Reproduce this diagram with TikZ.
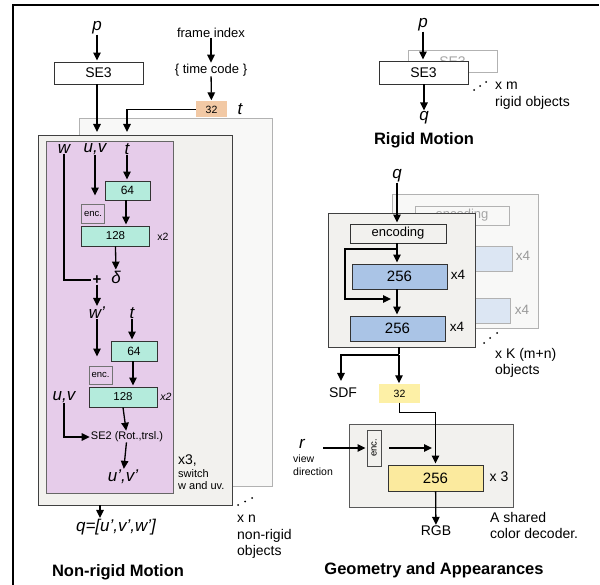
\documentclass[tikz,border=0pt]{standalone}
\usepackage{fontspec}
\setmainfont{Liberation Sans}
\usetikzlibrary{positioning,arrows.meta}

\definecolor{lila}{HTML}{E6CCEA}
\definecolor{mint}{HTML}{B4EBDC}
\definecolor{peach}{HTML}{F2C9A5}
\definecolor{panel}{HTML}{F2F1EE}
\definecolor{ghost}{HTML}{F8F8F7}
\definecolor{steel}{HTML}{AAC4E6}
\definecolor{pale}{HTML}{DCE6F3}
\definecolor{lemon}{HTML}{FDF0A6}
\definecolor{butter}{HTML}{FBEA9E}

\begin{document}
\begin{tikzpicture}[x=1pt,y=-1pt,>={Triangle[length=8pt,width=7.5pt]},shorten >=1pt,
  arr/.style={->,line width=1.3pt},
  wire/.style={line width=1.3pt},
  main/.style={draw=black!80,line width=0.9pt,inner sep=0pt,font=\fontsize{14}{16}\selectfont},
  layer/.style={draw=black!75,line width=0.9pt,fill=panel,inner sep=0pt},
  shade/.style={draw=black!30,line width=0.9pt,fill=ghost,inner sep=0pt},
  var/.style={font=\fontsize{17}{19}\selectfont\itshape,inner sep=0pt},
  lbl/.style={font=\fontsize{14}{16.5}\selectfont,align=left,inner sep=0pt},
  small/.style={font=\fontsize{10.5}{12.5}\selectfont,inner sep=0pt},
  title/.style={font=\fontsize{16.5}{19}\selectfont\bfseries,inner sep=0pt}]
  \useasboundingbox (0,0) rectangle (600,585);
  \draw[line width=1.6pt] (13,585) -- (13,5) -- (600,5);

  % non-rigid motion
  \node[var] (pL) at (97,28) {p};
  \node[main,fill=white,minimum width=89,minimum height=22] (se3L) at (98.5,73) {SE3};
  \node[lbl,font=\fontsize{13}{15}\selectfont] (frame) at (211,33) {frame index};
  \node[lbl,font=\fontsize{13}{15}\selectfont] (tcode) at (211,70) {\{ time code \}};
  \node[fill=peach,minimum width=31,minimum height=16,inner sep=0pt,font=\fontsize{10.5}{12}\selectfont] (t32) at (211.5,109.5) {32};
  \node[var] (tt) at (240,109) {t};

  \node[shade,minimum width=193,minimum height=368] (backL) at (175.5,302) {};
  \node[layer,minimum width=194,minimum height=370] (frontL) at (135,320) {};
  \node[draw=black!60,line width=0.9pt,fill=lila,minimum width=127,minimum height=352] (lila) at (109.5,317) {};

  \node[var] (w) at (64,149) {w};
  \node[var] (uv) at (95,149) {u,v};
  \node[var] (t1) at (127,149) {t};
  \node[main,fill=mint,minimum width=45,minimum height=19,font=\fontsize{12}{14}\selectfont] (h64a) at (127.5,190.5) {64};
  \node[main,draw=black!55,fill=lila,minimum width=23,minimum height=19,font=\fontsize{9.5}{11}\selectfont] (enc1) at (93,213.5) {enc.};
  \node[main,fill=mint,minimum width=68,minimum height=20,font=\fontsize{11.5}{13}\selectfont] (h128a) at (115.5,236) {128};
  \node[small] (x2a) at (163,237) {x2};
  \node[font=\fontsize{15}{16}\selectfont\bfseries,inner sep=0pt] (plus) at (97,280) {+};
  \node[var] (delta) at (116,277) {δ};

  \node[var] (wp) at (97,313) {w'};
  \node[var] (t2) at (132,313) {t};
  \node[main,fill=mint,minimum width=46,minimum height=20,font=\fontsize{12}{14}\selectfont] (h64b) at (134,351) {64};
  \node[main,draw=black!55,fill=lila,minimum width=23,minimum height=18,font=\fontsize{9.5}{11}\selectfont] (enc2) at (100.5,375) {enc.};
  \node[main,fill=mint,minimum width=68,minimum height=20,font=\fontsize{11.5}{13}\selectfont] (h128b) at (123,397) {128};
  \node[small,font=\fontsize{10.5}{12.5}\selectfont\itshape] (x2b) at (166,397) {x2};
  \node[var] (uv2) at (64,397) {u,v};
  \node[font=\fontsize{11}{13}\selectfont,inner sep=0pt] (se2) at (127,437) {SE2 (Rot.,trsl.)};
  \node[var] (uvp) at (123,477) {u',v'};
  \node[small,anchor=north west,align=left,font=\fontsize{11}{12.5}\selectfont] (x3) at (178,455) {{\fontsize{14}{14}\selectfont x3,}\\switch\\w and uv.};

  \node[var] (qout) at (116,527) {q=[u',v',w']};
  \node[lbl,anchor=north west] (xn) at (237,515) {x n\\non-rigid\\objects};
  \node[title] (nonrigid) at (118,572) {Non-rigid Motion};
  \fill (238,505) circle (1pt) (245,501.5) circle (1pt) (252,498) circle (1pt);

  \coordinate (pin) at (97,133);
  \coordinate (tin) at (127,133);
  \coordinate (qin) at (100,505);
  \draw[arr] (pL) -- (pL |- se3L.north);
  \draw[arr] (se3L.south -| pin) -- (pin);
  \draw[arr] (frame) -- (tcode);
  \draw[arr] (tcode) -- (t32);
  \draw[arr] (t32.west) -| (tin);
  \draw[wire] (w) |- (plus.west);
  \draw[arr,shorten >=8pt] (uv) -- (uv |- enc1.north);
  \draw[arr] (t1) -- (h64a.north -| t1);
  \draw[arr] (h64a.south -| 126,0) -- (h128a.north -| 126,0);
  \draw[arr] (h128a.south) -- (delta);
  \draw[arr] (plus) -- (wp);
  \draw[arr,shorten >=9pt] (wp) -- (wp |- enc2.north);
  \draw[arr] (t2) -- (h64b.north -| t2);
  \draw[arr] (h64b.south -| 133,0) -- (h128b.north -| 133,0);
  \draw[arr] (h128b.south) -- (se2);
  \draw[arr] (uv2) |- (se2.west);
  \draw[arr] (se2) -- (uvp);
  \draw[arr] (qin) -- (qin |- qout.north);

  % rigid motion
  \node[var] (pR) at (423,25) {p};
  \node[main,draw=black!30,fill=white,text=black!35,minimum width=89,minimum height=22] (se3B) at (452.5,61.5) {SE3};
  \node[main,fill=white,minimum width=89,minimum height=23] (se3R) at (423.5,72.5) {SE3};
  \node[var] (qR) at (424,118) {q};
  \node[lbl,anchor=north west] (xm) at (495,82) {x m\\rigid objects};
  \node[title] (rigid) at (424,140) {Rigid Motion};
  \fill (474,90) circle (1pt) (480,86) circle (1pt) (486,82) circle (1pt);
  \draw[arr] (pR) -- (pR |- se3R.north);
  \draw[arr] (se3R.south -| qR) -- (qR);

  % geometry and appearances
  \node[var] (qG) at (397,176) {q};
  \node[shade,minimum width=146,minimum height=134] (backG) at (465,261) {};
  \node[main,draw=black!30,fill=ghost,text=black!35,minimum width=94,minimum height=19,font=\fontsize{13}{15}\selectfont] (encB) at (462,215.5) {encoding};
  \node[main,draw=black!30,fill=pale,minimum width=95,minimum height=25] (b256a) at (464.5,258.5) {};
  \node[main,draw=black!30,fill=pale,minimum width=95,minimum height=25] (b256b) at (462.5,310.5) {};
  \node[lbl,text=black!40,font=\fontsize{13.5}{15}\selectfont] (bx4a) at (523,256) {x4};
  \node[lbl,text=black!40,font=\fontsize{13.5}{15}\selectfont] (bx4b) at (522,310) {x4};
  \node[layer,minimum width=147,minimum height=134] (frontG) at (401.5,280) {};
  \node[main,fill=panel,minimum width=96,minimum height=19,font=\fontsize{13}{15}\selectfont] (encG) at (398,233.5) {encoding};
  \node[main,fill=steel,minimum width=95,minimum height=25,font=\fontsize{15}{17}\selectfont] (m256a) at (399.5,276.5) {256};
  \node[main,fill=steel,minimum width=95,minimum height=25,font=\fontsize{15}{17}\selectfont] (m256b) at (397.5,328.5) {256};
  \node[lbl,font=\fontsize{13.5}{15}\selectfont] (x4a) at (458,275) {x4};
  \node[lbl,font=\fontsize{13.5}{15}\selectfont] (x4b) at (457,327) {x4};
  \fill (484,343) circle (1pt) (490,338) circle (1pt) (497,333) circle (1pt);
  \node[lbl,anchor=north west] (xK) at (495,348) {x K (m+n)\\objects};

  \node[fill=lemon,minimum width=41,minimum height=18,inner sep=0pt,font=\fontsize{10.5}{12}\selectfont] (g32) at (399.5,393.5) {32};
  \node[lbl] (sdf) at (343,393) {SDF};
  \node[layer,draw=black!65,minimum width=164,minimum height=83] (dec) at (431,465.5) {};
  \node[main,draw=black!70,fill=panel,rotate=90,minimum width=36,minimum height=14,font=\fontsize{9.5}{11}\selectfont] (encR) at (374,448) {enc.};
  \node[main,fill=butter,minimum width=95,minimum height=26,font=\fontsize{15}{17}\selectfont] (m256c) at (435.5,478) {256};
  \node[lbl] (x3r) at (499,477) {x 3};
  \node[var] (rR) at (302,444) {r};
  \node[small,anchor=north west,align=left,font=\fontsize{10.5}{13}\selectfont] (view) at (293,455) {view\\direction};
  \node[lbl] (rgb) at (436,531) {RGB};
  \node[lbl,anchor=north west] (shared) at (490,512) {A shared\\color decoder.};
  \node[title] (geo) at (434,570) {Geometry and Appearances};

  \coordinate (split) at (399,355);
  \coordinate (sk) at (397,249);
  \coordinate (skin) at (392,299);
  \coordinate (rin) at (323,448);
  \coordinate (encout) at (389,448);
  \coordinate (join) at (433,448);
  \draw[arr] (qG) -- (qG |- encG.north);
  \draw[arr] (encG.south -| sk) -- (sk |- m256a.north);
  \draw[arr] (sk) -| (345,299) -- (skin);
  \draw[arr] (m256a.south -| sk) -- (sk |- m256b.north);
  \draw[wire] (frontG.south -| split) -- (split);
  \draw[arr] (split) -- (split |- g32.north);
  \draw[arr] (split) -| (341,382);
  \draw[arr] (g32.south) -- ++(0,10) -| (m256c.north);
  \draw[arr] (rin) -- (encR.north);
  \draw[arr] (encout) -- (join);
  \draw[arr] (m256c) -- (rgb);
\end{tikzpicture}
\end{document}
